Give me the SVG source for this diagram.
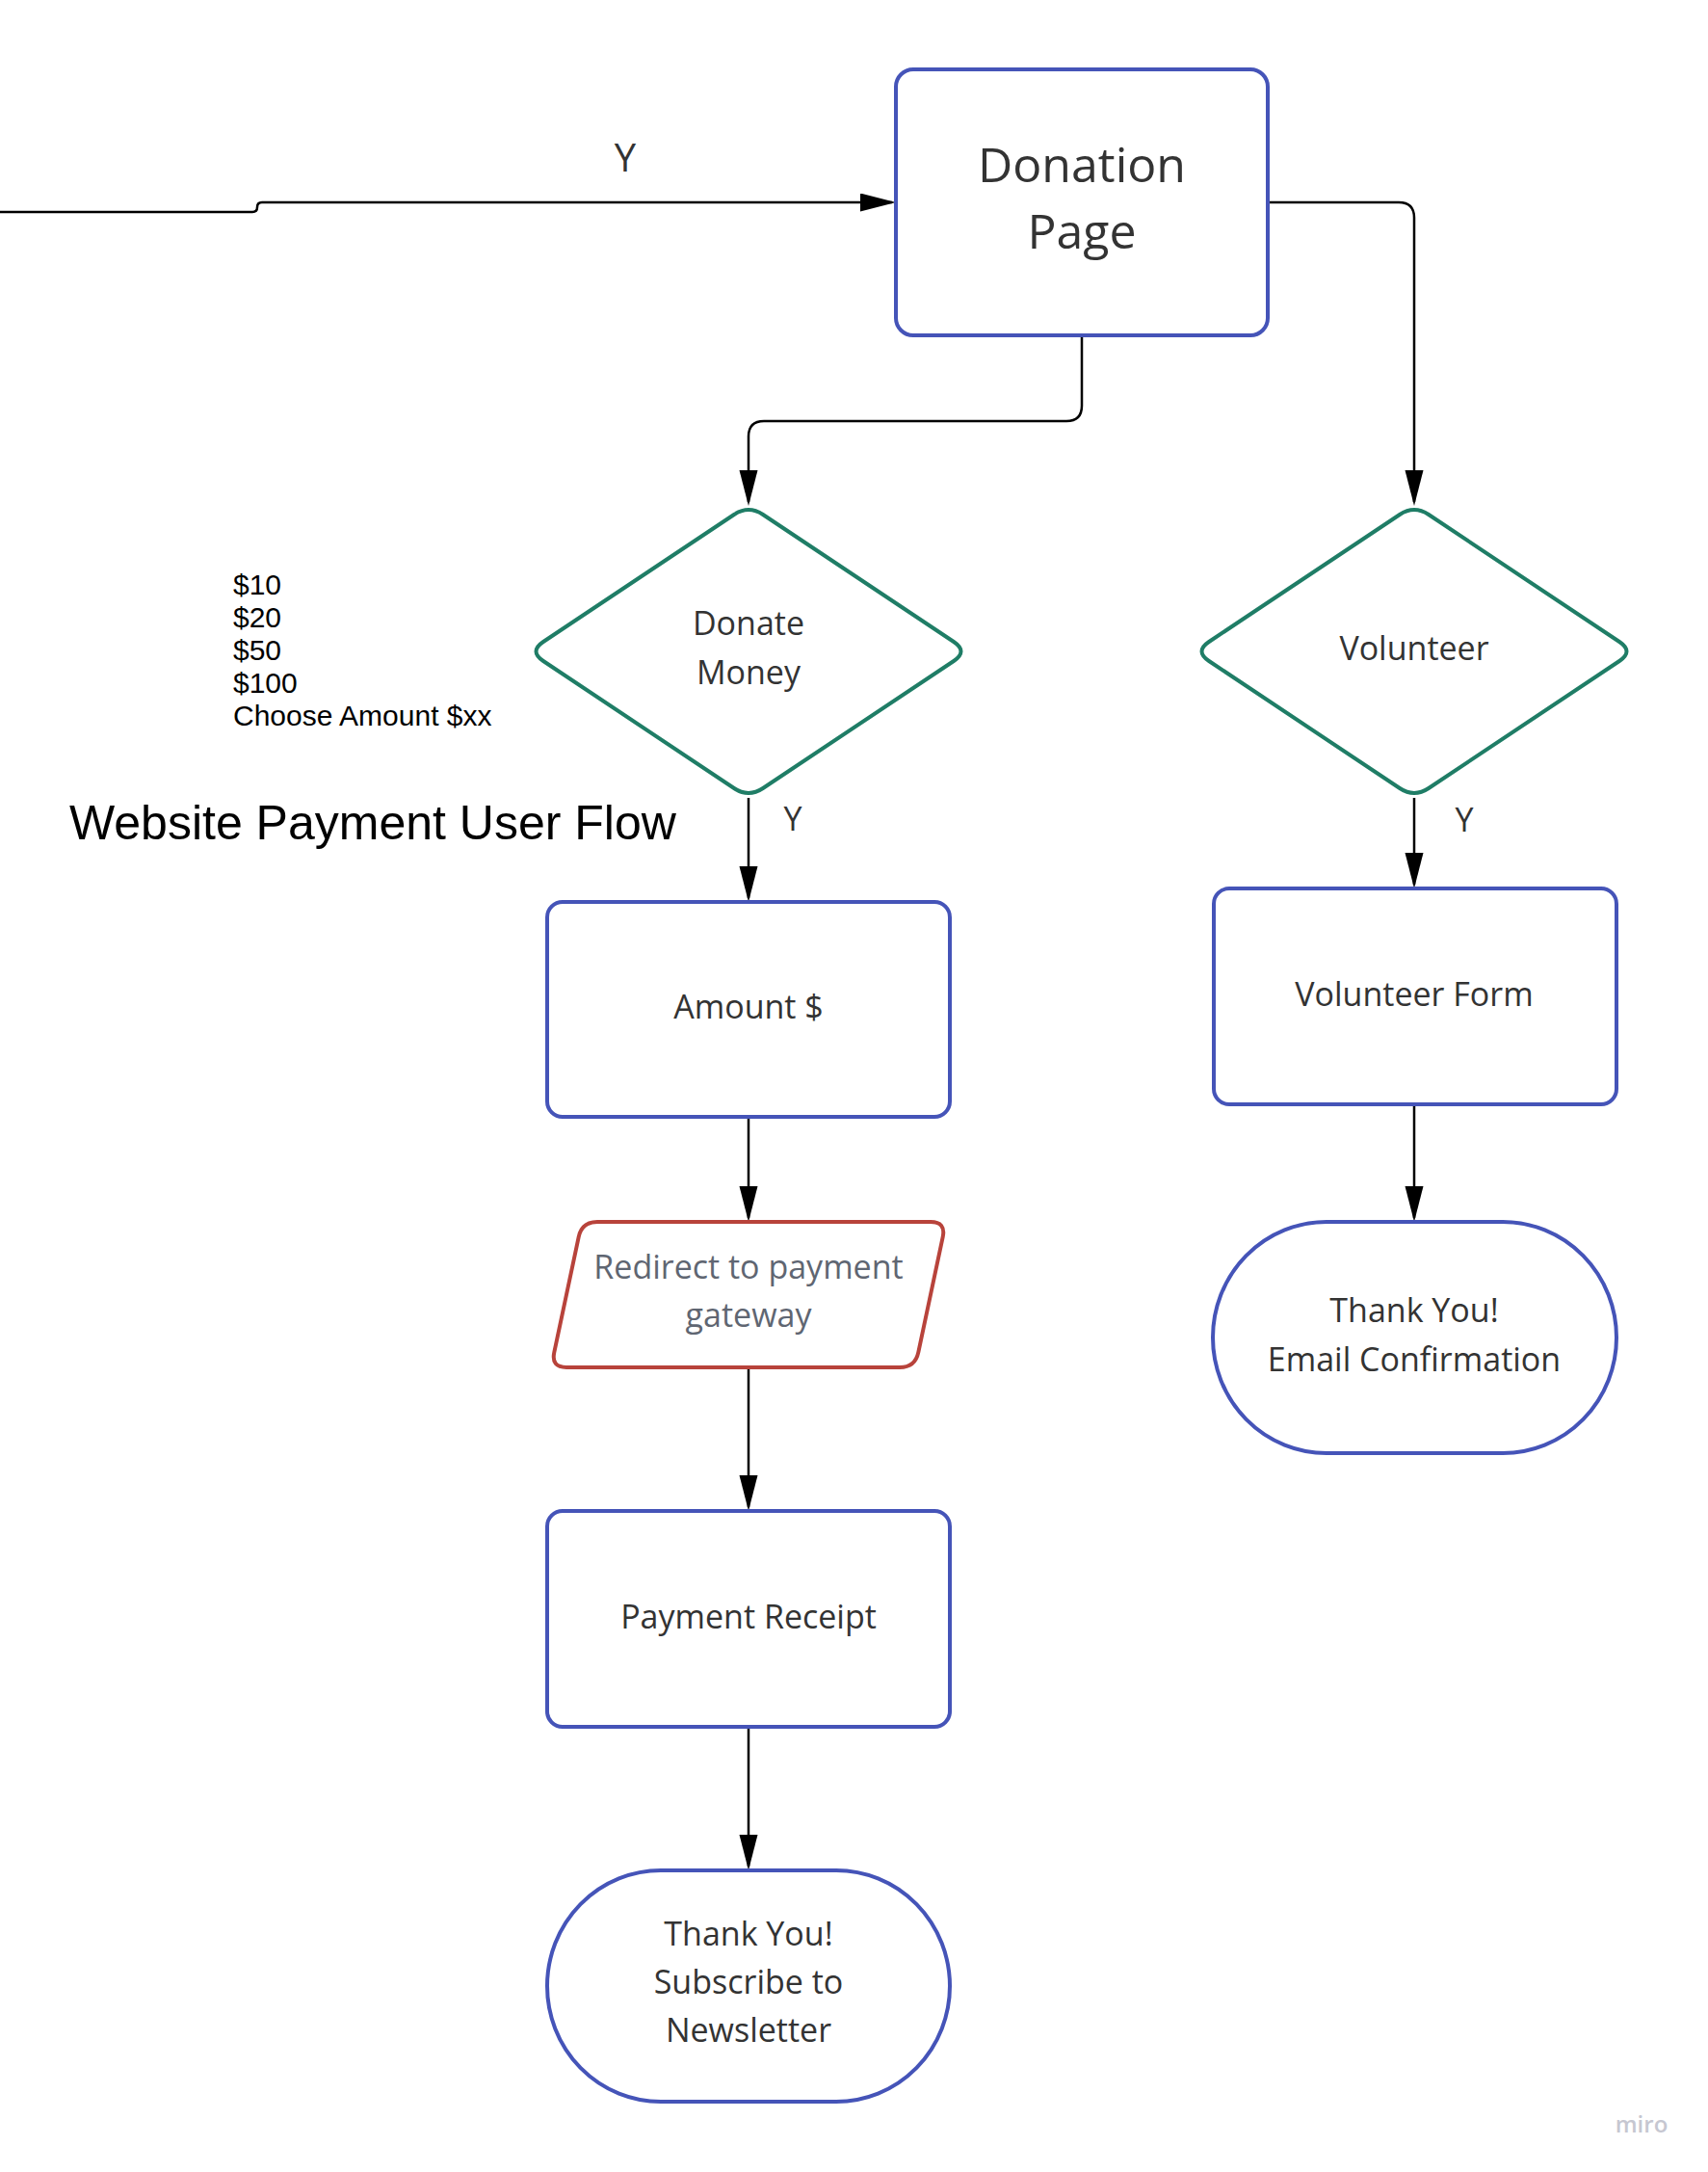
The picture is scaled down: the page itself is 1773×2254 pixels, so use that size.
<svg xmlns="http://www.w3.org/2000/svg" width="1773" height="2254" viewBox="0 0 1773 2254">
<style>
.t{font-family:"Open Sans","Noto Sans",sans-serif;fill:#333333;text-anchor:middle;font-size:34px}
.blue{fill:#ffffff;stroke:#4554b8;stroke-width:4}
.green{fill:#ffffff;stroke:#1f7d66;stroke-width:4}
.red{fill:#ffffff;stroke:#b8433b;stroke-width:4}
.conn{fill:none;stroke:#000000;stroke-width:2.5}
.note{font-family:"Liberation Sans",Arial,sans-serif;fill:#000000}
</style>
<defs>
<marker id="arr" markerUnits="userSpaceOnUse" markerWidth="40" markerHeight="20" refX="33" refY="9.5" orient="auto">
<path d="M0,0 L37,9.5 L0,19 Z" fill="#000000"/>
</marker>
</defs>
<rect width="1773" height="2254" fill="#ffffff"/>
<g id="connectors">
<path class="conn" d="M0,220 H262 Q267,220 267,215 Q267,210 272,210 H926" marker-end="url(#arr)"/>
<path class="conn" d="M1123,349 V421 Q1123,437 1107,437 H793 Q777,437 777,453 V521" marker-end="url(#arr)"/>
<path class="conn" d="M1316,210 H1452 Q1468,210 1468,226 V521" marker-end="url(#arr)"/>
<path class="conn" d="M777,828 V932" marker-end="url(#arr)"/>
<path class="conn" d="M1468,828 V918" marker-end="url(#arr)"/>
<path class="conn" d="M777,1159 V1264" marker-end="url(#arr)"/>
<path class="conn" d="M1468,1146 V1264" marker-end="url(#arr)"/>
<path class="conn" d="M777,1419 V1564" marker-end="url(#arr)"/>
<path class="conn" d="M777,1792 V1937" marker-end="url(#arr)"/>
<text class="t" x="649" y="178" style="font-size:40px">Y</text>
<text class="t" x="823" y="862">Y</text>
<text class="t" x="1520" y="863">Y</text>
</g>
<g id="donation-page">
<rect class="blue" x="930" y="72" width="386" height="276" rx="18"/>
<text class="t" x="1123" y="189" style="font-size:50px">Donation</text>
<text class="t" x="1123" y="258" style="font-size:50px">Page</text>
</g>
<g id="donate-money">
<path class="green" d="M792,534 L990,666 Q1005,676 990,686 L792,818 Q777,828 762,818 L564,686 Q549,676 564,666 L762,534 Q777,524 792,534 Z"/>
<text class="t" x="777" y="659">Donate</text>
<text class="t" x="777" y="710">Money</text>
</g>
<g id="volunteer">
<path class="green" d="M1483,534 L1681,666 Q1696,676 1681,686 L1483,818 Q1468,828 1453,818 L1255,686 Q1240,676 1255,666 L1453,534 Q1468,524 1483,534 Z"/>
<text class="t" x="1468" y="685">Volunteer</text>
</g>
<g id="amount-options">
<text class="note" x="242" y="617" font-size="30">$10</text>
<text class="note" x="242" y="651" font-size="30">$20</text>
<text class="note" x="242" y="685" font-size="30">$50</text>
<text class="note" x="242" y="719" font-size="30">$100</text>
<text class="note" x="242" y="753" font-size="30">Choose Amount $xx</text>
</g>
<g id="title">
<text class="note" x="72" y="871" font-size="50">Website Payment User Flow</text>
</g>
<g id="amount">
<rect class="blue" x="568" y="936" width="418" height="223" rx="16"/>
<text class="t" x="777" y="1057">Amount $</text>
</g>
<g id="volunteer-form">
<rect class="blue" x="1260" y="922" width="418" height="224" rx="16"/>
<text class="t" x="1468" y="1044">Volunteer Form</text>
</g>
<g id="redirect">
<path class="red" d="M620,1268 H966 Q982,1268 978.7,1283.6 L953.3,1403.4 Q950,1419 934,1419 H588 Q572,1419 575.3,1403.4 L600.7,1283.6 Q604,1268 620,1268 Z"/>
<text class="t" x="777" y="1327" style="fill:#5f6672">Redirect to payment</text>
<text class="t" x="777" y="1377" style="fill:#5f6672">gateway</text>
</g>
<g id="thank-you-email">
<rect class="blue" x="1259" y="1268" width="419" height="240" rx="118" ry="120"/>
<text class="t" x="1468" y="1372">Thank You!</text>
<text class="t" x="1468" y="1423">Email Confirmation</text>
</g>
<g id="payment-receipt">
<rect class="blue" x="568" y="1568" width="418" height="224" rx="16"/>
<text class="t" x="777" y="1690">Payment Receipt</text>
</g>
<g id="thank-you-newsletter">
<rect class="blue" x="568" y="1941" width="418" height="240" rx="118" ry="120"/>
<text class="t" x="777" y="2019">Thank You!</text>
<text class="t" x="777" y="2069">Subscribe to</text>
<text class="t" x="777" y="2119">Newsletter</text>
</g>
<text x="1704" y="2213" font-family="'Open Sans',sans-serif" font-size="24" font-weight="600" fill="#c6c7d1" text-anchor="middle">miro</text>
</svg>
